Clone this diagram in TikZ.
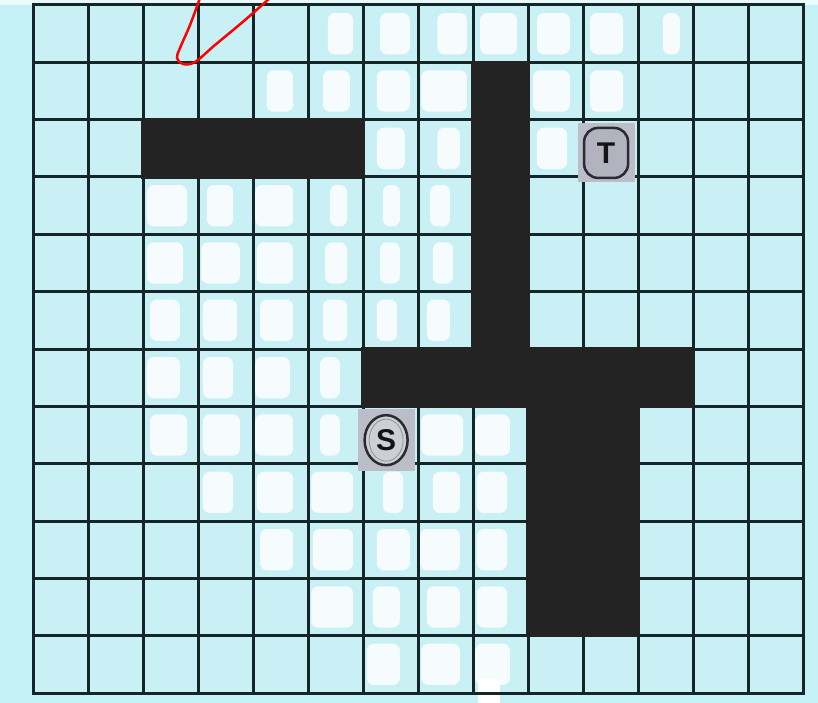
\documentclass[tikz,border=0pt]{standalone}
\usepackage{fontspec}
\setsansfont{Liberation Sans}
\usetikzlibrary{shapes.geometric}
\definecolor{cellcyan}{HTML}{C9F1F5}
\definecolor{margincyan}{HTML}{C3F1F6}
\definecolor{topstrip}{HTML}{EAFBFC}
\definecolor{gridline}{HTML}{142628}
\definecolor{wallblack}{HTML}{232323}
\definecolor{stickergray}{HTML}{BBBDC9}
\definecolor{ringfill}{HTML}{CDCED6}
\definecolor{tfill}{HTML}{B2B3BE}
\definecolor{ringline}{HTML}{2A2A30}
\tikzset{
  gridln/.style={gridline, line width=3pt, line cap=rect},
  wall/.style={fill=wallblack},
  blob/.style={fill=white, opacity=0.85, rounded corners=7pt},
  sticker/.style={rectangle, fill=stickergray, minimum width=57pt, minimum height=60pt, inner sep=0pt},
  lettermark/.style={font=\sffamily\bfseries\fontsize{30}{30}\selectfont, text=black!92, inner sep=0pt, line width=2.5pt, draw=ringline},
}
\begin{document}
\begin{tikzpicture}[x=55pt,y=-57.3333pt]
\useasboundingbox (-0.6,-0.08721) rectangle (14.27273,12.17442);
\clip (-0.6,-0.08721) rectangle (14.27273,12.17442);
% background
\fill[margincyan] (-0.6,-0.08721) rectangle (14.27273,12.17442);
\fill[topstrip] (-0.6,-0.08721) rectangle (14.27273,0);
\fill[cellcyan] (0,0) rectangle (14,12);
% white erased patches
\foreach \c/\r/\a/\b in {
  5/0/0.36/0.82, 6/0/0.31/0.85, 7/0/0.35/0.89, 8/0/0.13/0.80, 9/0/0.16/0.76, 10/0/0.13/0.73, 11/0/0.45/0.76,
  4/1/0.25/0.73, 5/1/0.27/0.76, 6/1/0.25/0.85, 7/1/0.06/0.89, 9/1/0.09/0.76, 10/1/0.13/0.73,
  6/2/0.25/0.76, 7/2/0.35/0.76, 9/2/0.16/0.71,
  2/3/0.07/0.80, 3/3/0.16/0.64, 4/3/0.04/0.73, 5/3/0.40/0.71, 6/3/0.36/0.67, 7/3/0.22/0.58,
  2/4/0.07/0.73, 3/4/0.06/0.76, 4/4/0.07/0.73, 5/4/0.31/0.71, 6/4/0.31/0.67, 7/4/0.27/0.64,
  2/5/0.13/0.67, 3/5/0.09/0.71, 4/5/0.13/0.73, 5/5/0.27/0.71, 6/5/0.25/0.62, 7/5/0.16/0.58,
  2/6/0.07/0.67, 3/6/0.09/0.64, 4/6/0.04/0.67, 5/6/0.22/0.58,
  2/7/0.13/0.80, 3/7/0.09/0.76, 4/7/0.04/0.73, 5/7/0.22/0.58, 7/7/0.06/0.82, 8/7/0.04/0.67,
  3/8/0.09/0.64, 4/8/0.07/0.73, 5/8/0.06/0.82, 6/8/0.36/0.73, 7/8/0.27/0.76, 8/8/0.07/0.62,
  4/9/0.13/0.73, 5/9/0.09/0.82, 6/9/0.25/0.85, 7/9/0.04/0.76, 8/9/0.07/0.62,
  5/10/0.06/0.82, 6/10/0.18/0.67, 7/10/0.16/0.76, 8/10/0.07/0.62,
  6/11/0.07/0.67, 7/11/0.06/0.76, 8/11/0.04/0.67}
  {\fill[blob] (\c+\a,\r+0.14) rectangle (\c+\b,\r+0.86);}
\fill[white, rounded corners=5pt] (8.09,11.75) rectangle (8.49,12.3);
% grid
\foreach \i in {0,...,14} \draw[gridln] (\i,0) -- (\i,12);
\foreach \j in {0,...,12} \draw[gridln] (0,\j) -- (14,\j);
% walls
\fill[wall] (1.97,1.97) rectangle (6.03,3.03);
\fill[wall] (7.97,0.97) rectangle (9.03,6.03);
\fill[wall] (5.97,5.97) rectangle (12.03,7.03);
\fill[wall] (8.97,6.97) rectangle (11.03,11.03);
% start and target
\node[sticker, minimum height=62pt] (scell) at (6.42,7.59) {};
\node[sticker, minimum height=59pt] (tcell) at (10.43,2.57) {};
\node[lettermark, ellipse, fill=ringfill, minimum width=43pt, minimum height=50pt] (S) at (6.42,7.59) {S};
\draw[ringline!50, line width=0.8pt] (S.center) ellipse (17pt and 21pt);
\node[lettermark, rectangle, rounded corners=14pt, fill=tfill, minimum width=44pt, minimum height=50pt] (T) at (10.42,2.58) {T};
% red pen stroke
\draw[red, line width=2.5pt, line cap=round] plot[smooth, tension=0.6] coordinates {(3.036,-0.122) (2.855,0.349) (2.673,0.750) (2.618,0.924) (2.727,1.029) (2.945,0.994) (3.309,0.698) (3.855,0.262) (4.309,-0.122)};
\end{tikzpicture}
\end{document}
